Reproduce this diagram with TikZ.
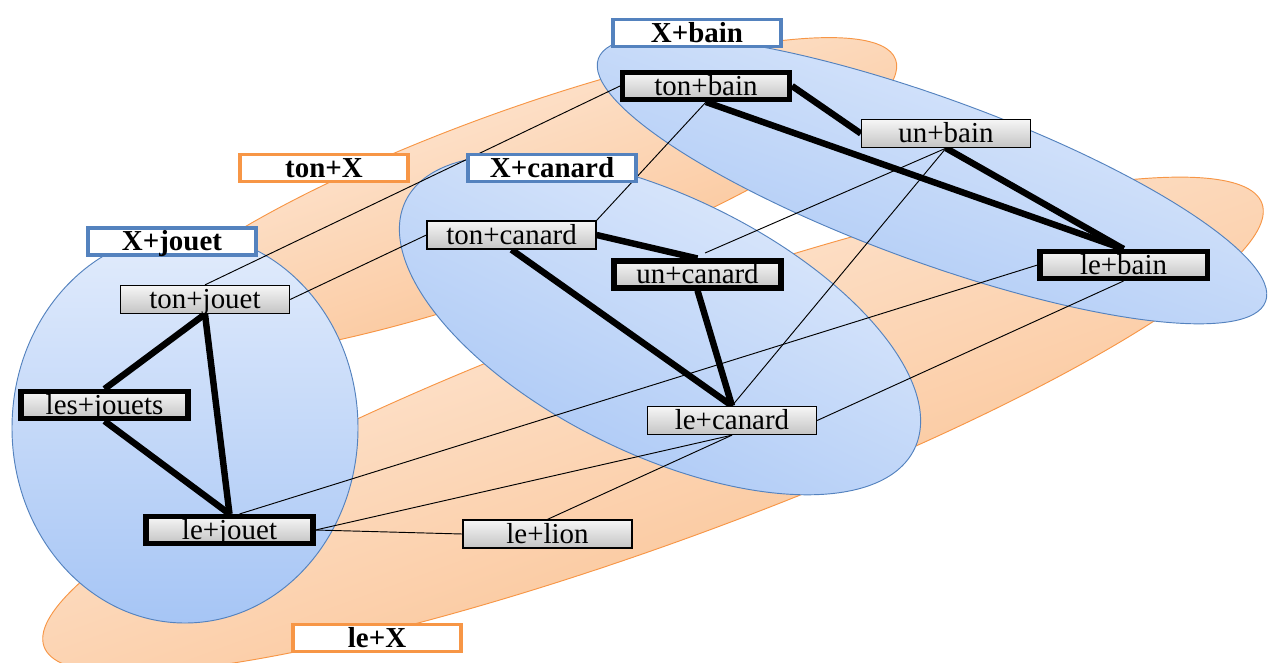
\documentclass[tikz,border=0pt]{standalone}
\usepackage{fontspec}
\setmainfont{Liberation Serif}
\definecolor{bluel}{RGB}{226,236,252}
\definecolor{blued}{RGB}{166,197,245}
\definecolor{blueb}{RGB}{84,130,190}
\definecolor{orl}{RGB}{254,238,225}
\definecolor{ord}{RGB}{250,188,136}
\definecolor{orb}{RGB}{247,150,70}
\definecolor{boxl}{RGB}{246,246,246}
\definecolor{boxd}{RGB}{196,196,196}
\pgfdeclarelayer{bg}
\pgfdeclarelayer{edges}
\pgfsetlayers{bg,edges,main}
\begin{document}
\begin{tikzpicture}[x=0.03cm,y=-0.03cm,
  word/.style={draw=black, line width=1.1pt, top color=boxl, bottom color=boxd,
    minimum width=169*0.03cm, minimum height=28*0.03cm, inner sep=0pt,
    text height=18*0.03cm, text depth=0pt, font=\fontsize{24.7}{28}\selectfont},
  key/.style={word, line width=4.3pt, minimum width=167*0.03cm, minimum height=27*0.03cm},
  grp/.style={draw=#1, fill=white, line width=2.6pt,
    minimum width=168*0.03cm, minimum height=27*0.03cm, inner sep=0pt,
    text height=18*0.03cm, text depth=0pt, font=\fontsize{24.7}{28}\selectfont\bfseries},
  fat/.style={line width=5.5pt, black},
  thin/.style={line width=0.8pt, black},
  blueset/.style={draw=blueb, line width=0.8pt, top color=bluel, bottom color=blued},
  orangeset/.style={draw=orb, line width=0.8pt, top color=orl, bottom color=ord}]
\useasboundingbox (0,0) rectangle (1271,662);

% group ellipses
\begin{pgfonlayer}{bg}
\path[orangeset, shading angle=20] (653,425) ellipse [x radius=648*0.03cm, y radius=118*0.03cm, rotate=20];
\path[orangeset, shading angle=20] (515,198) ellipse [x radius=405*0.03cm, y radius=86*0.03cm, rotate=20];
\path[blueset] (185,428) ellipse [x radius=173*0.03cm, y radius=195*0.03cm];
\path[blueset, shading angle=-26] (660,325) ellipse [x radius=283*0.03cm, y radius=129*0.03cm, rotate=-26];
\path[blueset, shading angle=-20] (932,180) ellipse [x radius=355*0.03cm, y radius=82*0.03cm, rotate=-20];
\end{pgfonlayer}

% word nodes
\node[word] (tj) at (205,299.5) {ton+jouet};
\node[key] (lsj) at (104.5,405) {les+jouets};
\node[key] (lj) at (229.5,530) {le+jouet};
\node[word] (tc) at (511.5,235) {ton+canard};
\node[key] (uc) at (697.5,274.5) {un+canard};
\node[word] (lc) at (732,420.5) {le+canard};
\node[key] (tb) at (706,86) {ton+bain};
\node[word] (ub) at (946,133.5) {un+bain};
\node[key] (lb) at (1123.5,265) {le+bain};
\node[word] (ll) at (547.5,534) {le+lion};
\coordinate (ucTop) at (705,253);

% group labels
\node[grp=blueb] (gj) at (172,241.5) {X+jouet};
\node[grp=blueb] (gc) at (552,168) {X+canard};
\node[grp=blueb] (gb) at (697,33) {X+bain};
\node[grp=orb] (gt) at (324,168) {ton+X};
\node[grp=orb] (gl) at (377,638) {le+X};

\begin{pgfonlayer}{edges}
% strong links
\draw[fat] (tj.south) -- (lsj.north);
\draw[fat] (tj.south) -- (lj.north);
\draw[fat] (lsj.south) -- (lj.north);
\draw[fat] (tc.south) -- (lc.north);
\draw[fat] (tc.east) -- (uc.north);
\draw[fat] (uc.south) -- (lc.north);
\draw[fat] (tb.east) -- (ub.west);
\draw[fat] (tb.south) -- (lb.north);
\draw[fat] (ub.south) -- (lb.north);
% weak links
\draw[thin] (tj.north) -- (tb.west);
\draw[thin] (tj.east) -- (tc.west);
\draw[thin] (tc.north east) -- (tb.south);
\draw[thin] (ub.south) -- (ucTop);
\draw[thin] (ub.south) -- (lc.north);
\draw[thin] ([xshift=10*0.03cm]lj.north) -- (lb.west);
\draw[thin] (lj.east) -- (lc.south);
\draw[thin] (lj.east) -- (ll.west);
\draw[thin] (ll.north) -- (lc.south);
\draw[thin] (lc.east) -- (lb.south);
\end{pgfonlayer}
\end{tikzpicture}
\end{document}
